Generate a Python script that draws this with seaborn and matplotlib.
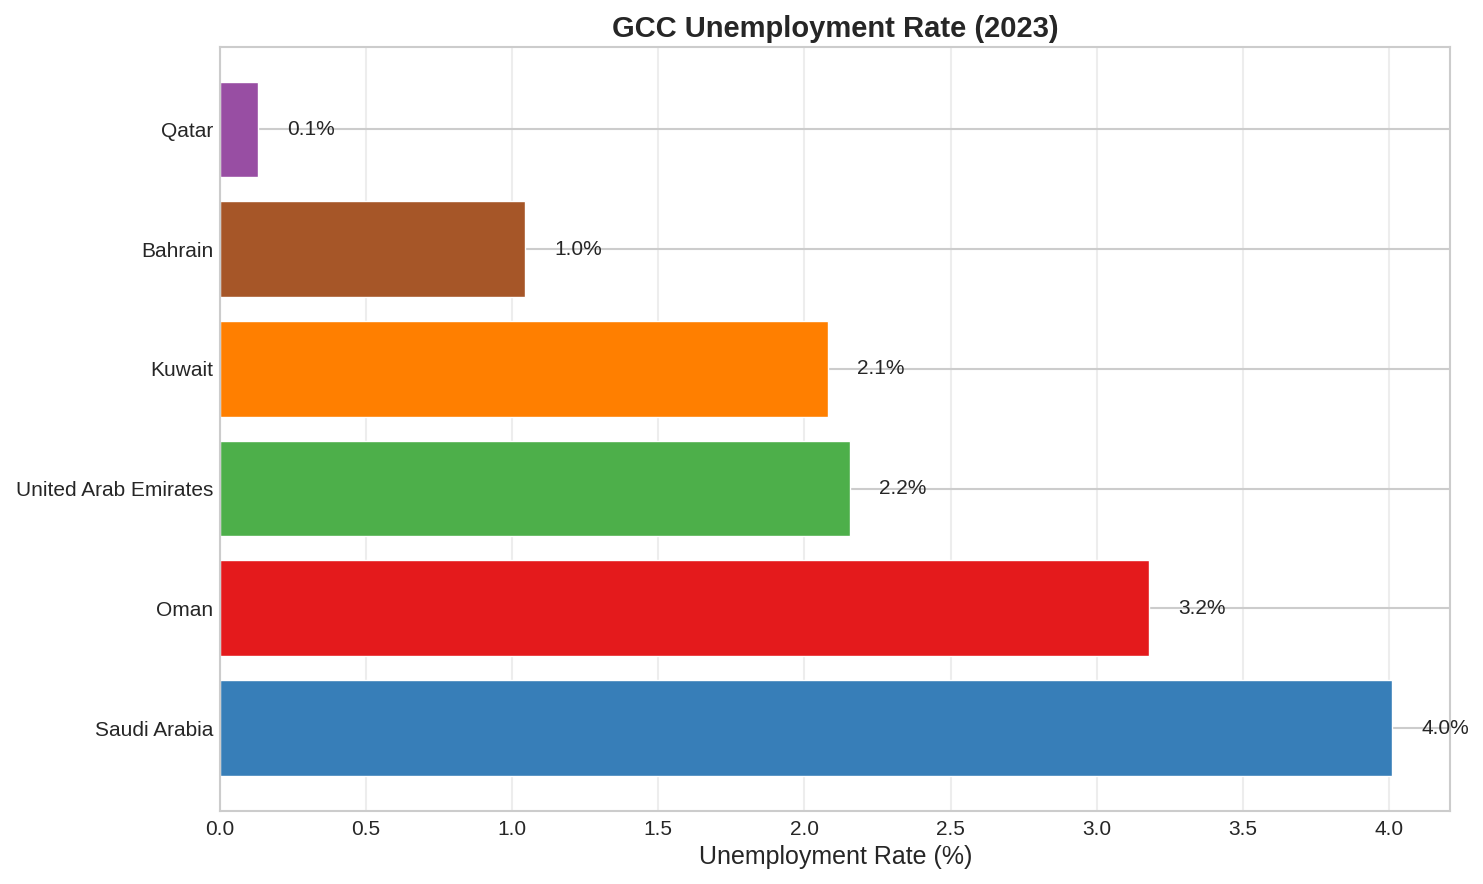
import matplotlib
matplotlib.use("Agg")
import matplotlib.pyplot as plt
import seaborn as sns
import pandas as pd

countries = ["Saudi Arabia", "Oman", "United Arab Emirates", "Kuwait", "Bahrain", "Qatar"]
rates = [4.01, 3.18, 2.155, 2.08, 1.044, 0.13]
colors = ["#377eb8", "#e41a1c", "#4daf4a", "#ff7f00", "#a65628", "#984ea3"]

sns.set_theme(style="whitegrid")
plt.rcParams["font.family"] = ["Liberation Sans", "DejaVu Sans"]

df = pd.DataFrame({"country": countries, "rate": rates})
order = countries[::-1]  # top to bottom
palette = dict(zip(countries, colors))

fig, ax = plt.subplots(figsize=(14.83, 8.84), dpi=100)
sns.barplot(data=df, x="rate", y="country", hue="country", order=order,
            hue_order=order, palette=palette, orient="h", width=0.8,
            saturation=1, legend=False, ax=ax)

n = len(countries)
ax.set_ylim(n - 1 + 0.69, -0.69)
ax.set_xlim(0, max(rates) * 1.05)

ax.yaxis.grid(True, color=".8", linewidth=1.5)
ax.xaxis.grid(True, color=".8", alpha=0.35, linewidth=1.5)
ax.set_axisbelow(True)
for s in ax.spines.values():
    s.set_linewidth(1.5)
    s.set_color(".8")

for c, v in zip(countries, rates):
    ax.text(v + 0.1, order.index(c), f"{v:.1f}%", va="center", ha="left",
            fontsize=15, color=".15")

ax.set_title("GCC Unemployment Rate (2023)", fontsize=21, fontweight="bold", color=".15", pad=7)
ax.set_xlabel("Unemployment Rate (%)", fontsize=18, labelpad=4)
ax.set_ylabel("")
ax.tick_params(axis="y", labelsize=15, length=0, pad=5)
ax.tick_params(axis="x", labelsize=15, length=0, pad=7)

fig.subplots_adjust(left=0.1484, right=0.978, top=0.947, bottom=0.083)
fig.savefig("out.png", dpi=100)
